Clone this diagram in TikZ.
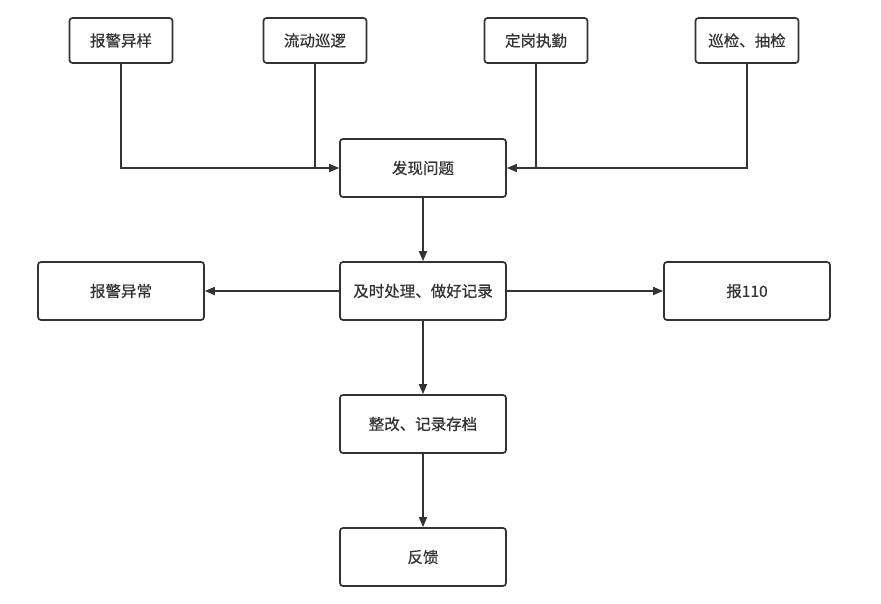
\documentclass[tikz,border=0pt]{standalone}
\usepackage{fontspec}
\setmainfont[FakeBold=0.6]{Noto Sans CJK SC}
\usetikzlibrary{arrows.meta}
\definecolor{ink}{HTML}{333333}
\begin{document}
\begin{tikzpicture}[x=1pt,y=-1pt,
  box/.style={draw=ink,line width=1.7pt,rounded corners=3pt,fill=white,text=ink,font=\fontsize{15.5}{18}\selectfont,inner sep=0pt,align=center},
  small/.style={box,minimum width=103pt,minimum height=45pt},
  big/.style={box,minimum width=166pt,minimum height=58pt},
  conn/.style={draw=ink,line width=1.7pt},
  arr/.style={conn,-{Triangle[length=10pt,width=8pt]}}]
\useasboundingbox[fill=white] (0,0) rectangle (881,603);
\node[small] (a1) at (121,40.5) {报警异样};
\node[small] (a2) at (315,40.5) {流动巡逻};
\node[small] (a3) at (536,40.5) {定岗执勤};
\node[small] (a4) at (747,40.5) {巡检、抽检};
\node[big] (find) at (423,168) {发现问题};
\node[big] (alarm) at (121,291) {报警异常};
\node[big] (handle) at (423,291) {及时处理、做好记录};
\node[big] (call) at (747,291) {报110};
\node[big] (fix) at (423,424) {整改、记录存档};
\node[big] (fb) at (423,557) {反馈};
\draw[arr] (a1.south) |- (find.west);
\draw[conn] (a2.south) -- (a2.south |- find.west);
\draw[arr] (a4.south) |- (find.east);
\draw[conn] (a3.south) -- (a3.south |- find.east);
\draw[arr] (find) -- (handle);
\draw[arr] (handle) -- (alarm);
\draw[arr] (handle) -- (call);
\draw[arr] (handle) -- (fix);
\draw[arr] (fix) -- (fb);
\end{tikzpicture}
\end{document}
